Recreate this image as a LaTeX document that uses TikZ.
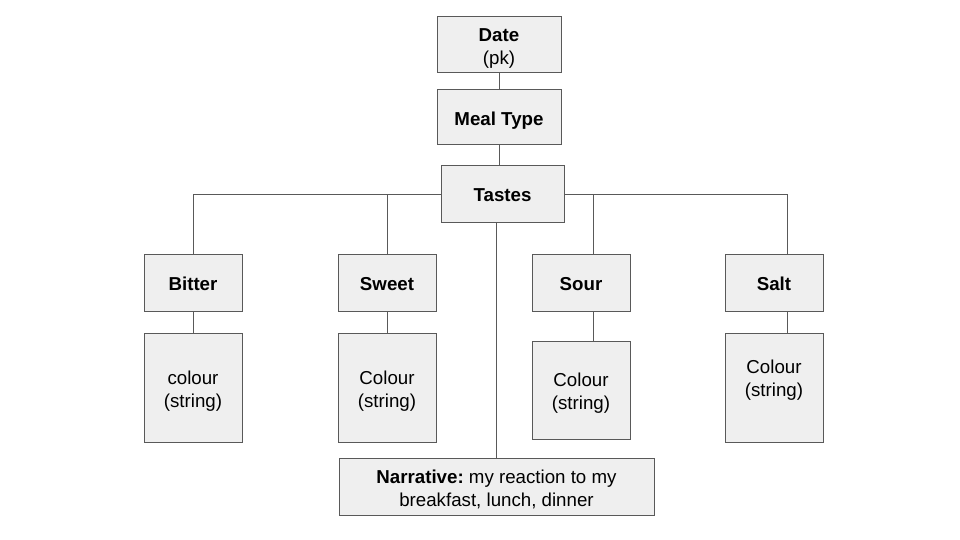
\documentclass[tikz,border=0pt]{standalone}
\usepackage{fontspec}
\setmainfont{Liberation Sans}
\usepackage{tikz}
\definecolor{BoxFill}{RGB}{239,239,239}
\definecolor{BoxLine}{RGB}{89,89,89}

\begin{document}
\begin{tikzpicture}[x=1pt, y=-1pt,
          keybox/.style={rectangle, draw=BoxLine, fill=BoxFill, line width=1pt,
                     align=center, font=\fontsize{18.7}{23}\selectfont\bfseries,
                     inner sep=0pt, minimum width=98pt, minimum height=57pt,
                     text height=15.5pt, text depth=0pt},
          twoline/.style={text height=39.6pt, text depth=0pt},
          valbox/.style={keybox, twoline, font=\fontsize{18.7}{23}\selectfont,
                     minimum height=109pt},
          link/.style={draw=BoxLine, line width=1pt}
        ]
        \useasboundingbox (0,0) rectangle (960,540);

        \node[keybox, twoline, minimum width=124pt, minimum height=56pt]
              (date)   at (499, 45)    {Date\\\mdseries (pk)};
        \node[keybox, minimum width=124pt, minimum height=55pt]
              (meal)   at (499, 117.5) {Meal Type};
        \node[keybox, minimum width=123pt, minimum height=56pt]
              (tastes) at (502.5, 194) {Tastes};

        \node[keybox] (bitter) at (193, 282.5) {Bitter};
        \node[keybox] (sweet)  at (387, 282.5) {Sweet};
        \node[keybox] (sour)   at (581, 282.5) {Sour};
        \node[keybox] (salt)   at (774, 282.5) {Salt};

        \node[valbox] (bitterv) at (193, 387.5) {colour\\(string)};
        \node[valbox] (sweetv)  at (387, 387.5) {Colour\\(string)};
        \node[valbox, minimum height=98pt]
              (sourv)  at (581, 390) {Colour\\(string)};
        \node[valbox, label={[font=\fontsize{18.7}{23}\selectfont, align=center,
              twoline, inner sep=0pt, yshift=11pt]center:Colour\\(string)}]
              (saltv)  at (774, 387.5) {};

        \node[keybox, twoline, minimum width=315pt, font=\fontsize{18.7}{23}\selectfont]
              (narr)   at (496.5, 486.5)
              {\textbf{Narrative:}\ my reaction to my\\breakfast, lunch, dinner};

        \draw[link] (date) -- (meal);
        \draw[link] (meal.south) -- (meal.south |- tastes.north);
        \draw[link] (tastes.west) -| (bitter.north);
        \draw[link] (sweet.north) -- (sweet.north |- tastes.west);
        \draw[link] (tastes.east) -| ([xshift=13pt]salt.north);
        \draw[link] ([xshift=12pt]sour.north) -- ([xshift=12pt]sour.north |- tastes.east);
        \draw[link] (narr.north) -- (narr.north |- tastes.south);

        \draw[link] (bitter) -- (bitterv);
        \draw[link] (sweet)  -- (sweetv);
        \draw[link] ([xshift=12pt]sour.south) -- ([xshift=12pt]sourv.north);
        \draw[link] ([xshift=13pt]salt.south) -- ([xshift=13pt]saltv.north);
      \end{tikzpicture}
\end{document}
